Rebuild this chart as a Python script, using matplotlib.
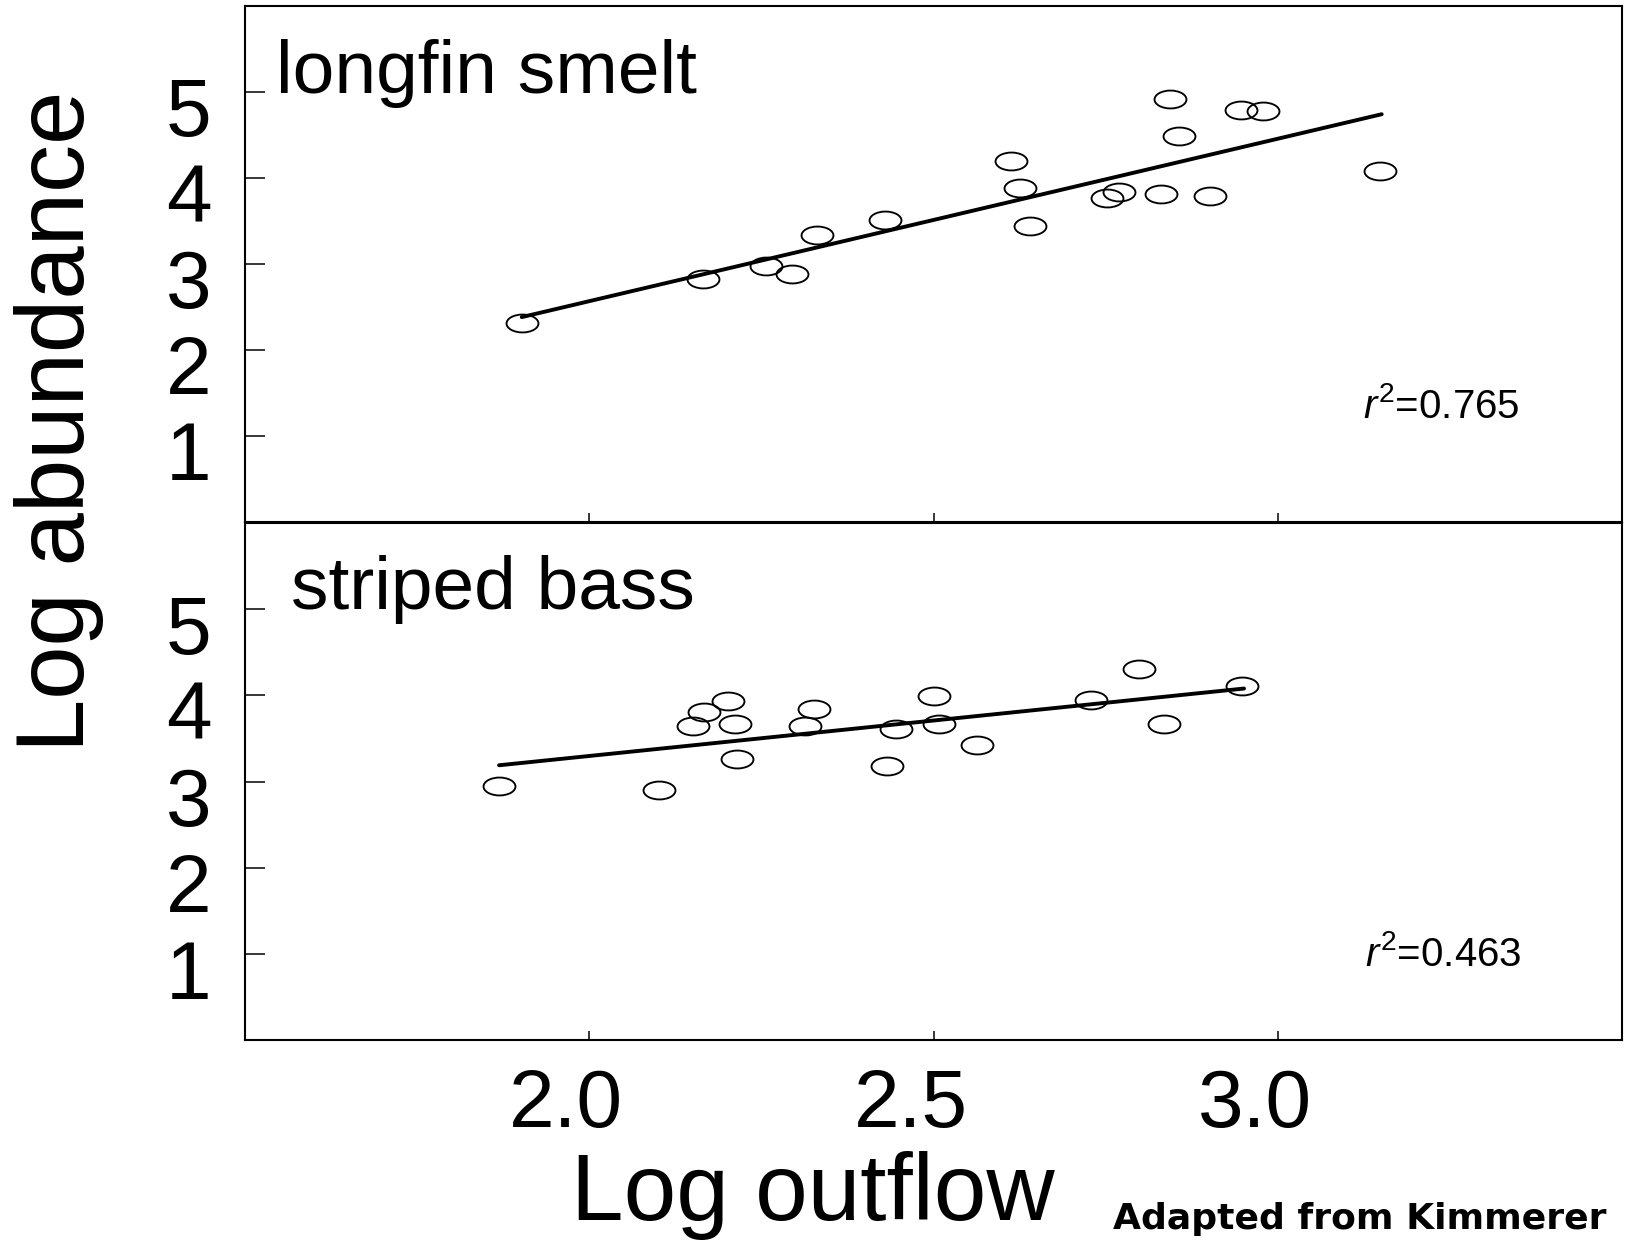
import matplotlib
matplotlib.use('Agg')
import matplotlib.pyplot as plt
import matplotlib.transforms as mtrans
from matplotlib.path import Path
import numpy as np

plt.rcParams['font.family'] = ['Liberation Sans', 'DejaVu Sans']
plt.rcParams['mathtext.fontset'] = 'custom'
plt.rcParams['mathtext.rm'] = 'Liberation Sans'
plt.rcParams['mathtext.it'] = 'Liberation Sans:italic'

# ---------------- data ----------------
smelt_x = [1.902, 2.165, 2.257, 2.295, 2.331, 2.430, 2.612, 2.626, 2.640,
           2.752, 2.769, 2.830, 2.844, 2.857, 2.902, 2.946, 2.978, 3.148]
smelt_y = [2.31, 2.82, 2.98, 2.88, 3.33, 3.51, 4.20, 3.88, 3.44,
           3.77, 3.84, 3.81, 4.92, 4.49, 3.79, 4.79, 4.78, 4.08]
smelt_fit_x = [1.902, 3.151]
smelt_fit_y = [2.38, 4.74]
smelt_r2 = "0.765"

bass_x = [1.869, 2.101, 2.150, 2.167, 2.201, 2.211, 2.215, 2.313, 2.327,
          2.433, 2.446, 2.501, 2.508, 2.563, 2.729, 2.798, 2.835, 2.948]
bass_y = [2.95, 2.90, 3.64, 3.81, 3.93, 3.67, 3.26, 3.65, 3.84,
          3.18, 3.61, 3.99, 3.67, 3.42, 3.95, 4.31, 3.67, 4.11]
bass_fit_x = [1.869, 2.951]
bass_fit_y = [3.19, 4.08]
bass_r2 = "0.463"

x_ticks = [2.0, 2.5, 3.0]
x_ticklabels = ["2.0", "2.5", "3.0"]
y_ticks = [1, 2, 3, 4, 5]
y_ticklabels = ["1", "2", "3", "4", "5"]

# ---------------- figure ----------------
W, H = 1628, 1241
fig = plt.figure(figsize=(W / 100, H / 100), dpi=100)

left = 245 / W
width = 1377 / W
ax1 = fig.add_axes([left, 1 - 521.7 / H, width, 515.8 / H])
ax2 = fig.add_axes([left, 1 - 1040.3 / H, width, 517.3 / H])

ellipse = mtrans.Affine2D().scale(1.0, 0.56).transform_path(Path.unit_circle())

panels = [
    (ax1, smelt_x, smelt_y, smelt_fit_x, smelt_fit_y, smelt_r2,
     "longfin smelt", (0.0225, 0.831), (3.124, 1.21)),
    (ax2, bass_x, bass_y, bass_fit_x, bass_fit_y, bass_r2,
     "striped bass", (0.0334, 0.834), (3.127, 0.862)),
]

for ax, xs, ys, fx, fy, r2, name, npos, rpos in panels:
    ax.plot(fx, fy, color='black', lw=2.8, solid_capstyle='round', zorder=2)
    ax.plot(xs, ys, linestyle='none', marker=ellipse, markersize=23,
            markerfacecolor='none', markeredgecolor='black',
            markeredgewidth=1.35, zorder=3)
    ax.set_xlim(1.5, 3.5)
    ax.set_ylim(0, 6)
    ax.set_xticks(x_ticks)
    ax.set_yticks(y_ticks)
    ax.set_yticklabels(y_ticklabels)
    ax.tick_params(axis='y', direction='in', length=14.5, width=1.1,
                   labelsize=59, pad=24, left=True, right=False)
    ax.tick_params(axis='x', direction='in', length=6.8, width=1.1,
                   labelsize=59, pad=20, top=False, bottom=True)
    for sp in ax.spines.values():
        sp.set_linewidth(1.5)
    ax.text(npos[0], npos[1], name, transform=ax.transAxes,
            fontsize=54, ha='left', va='baseline')
    ax.text(rpos[0], rpos[1], r"$\mathit{r}^{2}$=" + r2,
            fontsize=29, ha='left', va='baseline')
    # shift y tick labels down slightly as in the reference
    off_y = mtrans.ScaledTranslation(0, -0.15, fig.dpi_scale_trans)
    for lab in ax.get_yticklabels():
        lab.set_transform(lab.get_transform() + off_y)

ax1.set_xticklabels([])
ax2.set_xticklabels(x_ticklabels)
off_x = mtrans.ScaledTranslation(-0.23, 0, fig.dpi_scale_trans)
for lab in ax2.get_xticklabels():
    lab.set_transform(lab.get_transform() + off_x)

fig.text(83.7 / W, 1 - 752 / H, "Log abundance", rotation=90,
         rotation_mode='anchor', ha='left', va='baseline', fontsize=69)
fig.text(812.5 / W, 1 - 1220 / H, "Log outflow", ha='center',
         va='baseline', fontsize=68)
fig.text(1113 / W, 1 - 1229 / H, "Adapted from Kimmerer", ha='left',
         va='baseline', fontsize=26, fontweight='bold',
         family=['DejaVu Sans'])

fig.savefig('out.png', dpi=100)
